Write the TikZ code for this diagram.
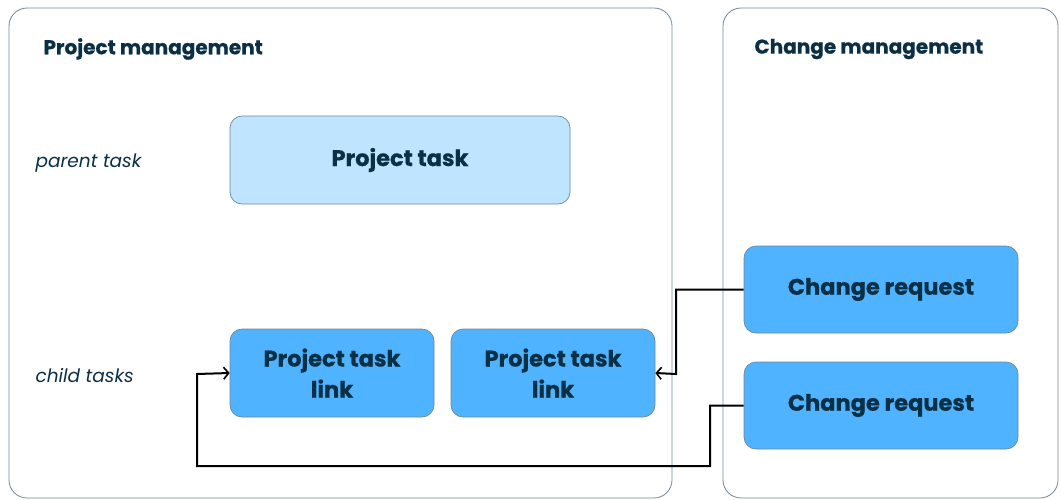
\documentclass[tikz,border=0pt]{standalone}
\usepackage{fontspec}
\setmainfont{Poppins}[BoldFeatures={FakeBold=0.8}]
\usetikzlibrary{calc, arrows.meta}
\definecolor{Ink}{HTML}{0B2F45}
\definecolor{Frame}{HTML}{6F8797}
\definecolor{Sky}{HTML}{BEE5FD}
\definecolor{Azure}{HTML}{4FB3FF}

\tikzset{
    area/.style={draw=Frame, rounded corners=18pt, line width=0.8pt},
    taskbox/.style={draw=Frame, rounded corners=12pt, line width=0.7pt, text=Ink, align=center,
        font=\fontsize{22.5}{31}\selectfont\bfseries},
    title/.style={anchor=west, text=Ink, font=\fontsize{20}{22}\selectfont\bfseries},
    level/.style={anchor=west, text=Ink, font=\fontsize{18.5}{20}\selectfont\itshape},
    link/.style={draw=black, line width=2pt, -{Straight Barb[length=5pt, width=12pt, line width=1.6pt]}}
}

\begin{document}
\begin{tikzpicture}[x=1pt, y=-1pt]
    \useasboundingbox (0,0) rectangle (1061,499);
    % containers
    \draw[area] (9,8) rectangle (672,498);
    \draw[area] (723,8) rectangle (1058,498);
    \node[title] (pmTitle) at (40,49) {Project management};
    \node[title] (cmTitle) at (751,49) {Change management};
    \node[level] (parentLbl) at (32,163) {parent task};
    \node[level] (childLbl) at (32,376) {child tasks};

    % tasks
    \node[taskbox, fill=Sky, minimum width=340pt, minimum height=88pt] (parent) at (400,160) {Project task};
    \node[taskbox, fill=Azure, minimum width=204pt, minimum height=88pt] (linkA) at (332,373) {Project task\\link};
    \node[taskbox, fill=Azure, minimum width=204pt, minimum height=88pt] (linkB) at (553,373) {Project task\\link};
    \node[taskbox, fill=Azure, minimum width=274pt, minimum height=87pt] (crA) at (881,289.5) {Change request};
    \node[taskbox, fill=Azure, minimum width=274pt, minimum height=87pt] (crB) at (881,405.5) {Change request};

    % links
    \draw[link] (crA.west) -| (676,374) -- (linkB.east);
    \draw[link] (crB.west) -| (710,466) -| (197,374) -- (linkA.west);
\end{tikzpicture}
\end{document}
